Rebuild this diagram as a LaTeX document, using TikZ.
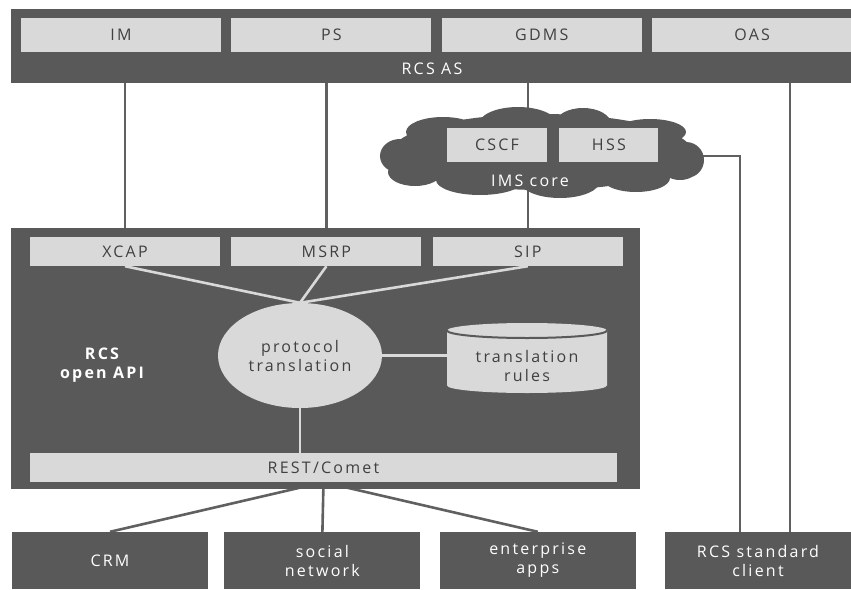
\documentclass[tikz,border=0pt]{standalone}
\usepackage{fontspec}
\setmainfont{Open Sans}[LetterSpace=14]
\usetikzlibrary{positioning,calc,shapes.geometric,backgrounds}
\definecolor{boxdark}{HTML}{595959}
\definecolor{boxlight}{HTML}{D9D9D9}
\definecolor{txtdark}{HTML}{404040}
\definecolor{linedark}{HTML}{606060}

\begin{document}
\begin{tikzpicture}[
  x=1pt, y=-1pt,
  font=\fontsize{16}{19}\selectfont,
  dark/.style={fill=boxdark, text=white, inner sep=0pt, align=center},
  light/.style={fill=boxlight, text=txtdark, inner sep=0pt, align=center},
  tab/.style={light, minimum width=200pt, minimum height=34pt},
  proto/.style={light, minimum width=190pt, minimum height=29pt},
  user/.style={dark, minimum width=196pt, minimum height=57pt},
  wlbl/.style={text=white, inner sep=0pt, align=center},
  dlbl/.style={text=txtdark, inner sep=0pt, align=center},
  link/.style={line width=2.6pt, linedark},
  ilink/.style={line width=2.6pt, boxlight},
]
\useasboundingbox (0,0) rectangle (851,589);

%% ---------- RCS AS (top bar) ----------
\node[dark, minimum width=840pt, minimum height=74pt] (rcsas) at (431,46) {};
\node[tab] (im) at (121,35) {IM};
\node[tab, right=10pt of im]   (ps)   {PS};
\node[tab, right=10pt of ps]   (gdms) {GDMS};
\node[tab, right=10pt of gdms] (oas)  {OAS};
\node[wlbl] (aslbl) at (432,69) {RCS AS};

%% ---------- IMS core (cloud made of puffs) ----------
\fill[boxdark]
  (542,152) ellipse[x radius=150, y radius=38]
  (400,156) ellipse[x radius=20, y radius=17]
  (443,132) ellipse[x radius=37, y radius=15]
  (518,124) ellipse[x radius=39, y radius=17]
  (583,124) ellipse[x radius=28, y radius=16]
  (650,132) ellipse[x radius=36, y radius=13]
  (686,160) ellipse[x radius=18, y radius=18]
  (415,172) ellipse[x radius=27, y radius=14]
  (480,180) ellipse[x radius=44, y radius=15]
  (560,181) ellipse[x radius=40, y radius=17]
  (636,178) ellipse[x radius=34, y radius=14]
  (680,168) ellipse[x radius=18, y radius=12];
\coordinate (ims) at (703,156);
\node[light, minimum width=100pt, minimum height=34pt] (cscf) at (497,145) {CSCF};
\node[light, minimum width=99pt, minimum height=34pt, right=12pt of cscf] (hss) {HSS};
\node[wlbl] (imslbl) at (530,181) {IMS core};

%% ---------- RCS open API ----------
\node[dark, minimum width=629pt, minimum height=261pt] (api) at (325.5,358.5) {};
\node[proto] (xcap) at (125,251.5) {XCAP};
\node[proto, right=11pt of xcap] (msrp) {MSRP};
\node[proto, right=11pt of msrp] (sip)  {SIP};
\node[wlbl, font=\fontsize{16}{19}\selectfont\bfseries] (apilbl) at (102,365) {RCS\\open API};

\node[ellipse, light, minimum width=164pt, minimum height=105pt] (trans) at (300,355.5)
  {protocol\\translation};

%% translation rules: a drum drawn by hand, its text node on top
\coordinate (drum) at (527,358);
\fill[boxlight] ($(drum)+(-80,-27.5)$) -- ($(drum)+(-80,27.5)$)
  arc[start angle=180, end angle=0, x radius=80, y radius=7.5]
  -- ($(drum)+(80,-27.5)$)
  arc[start angle=0, end angle=-180, x radius=80, y radius=7.5] -- cycle;
\draw[boxdark, line width=2pt] ($(drum)+(-80,-27.5)$)
  arc[start angle=180, end angle=0, x radius=80, y radius=7.5];
\node[dlbl, minimum width=160pt, minimum height=55pt] (rules) at (527,365.5) {translation\\rules};

\node[light, minimum width=587pt, minimum height=29pt] (rest) at (323.5,467.5) {REST/Comet};

\draw[ilink] (trans.north) -- (xcap.south);
\draw[ilink] (trans.north) -- (msrp.south);
\draw[ilink] (trans.north) -- (sip.south);
\draw[ilink] (trans.east)  -- (trans.east -| rules.west);
\draw[ilink] (trans.south) -- (trans.south |- rest.north);

%% ---------- users (bottom row) ----------
\node[user] (crm) at (110,560.5) {CRM};
\node[user, right=16pt of crm] (social) {social\\network};
\node[user, right=19pt of social] (apps) {enterprise\\apps};
\node[user, minimum width=186pt] (client) at (758,560.5) {RCS standard\\client};

%% ---------- links outside the boxes ----------
\coordinate (cimsx) at ($(client.north west)+(75,0)$);
\coordinate (casx)  at ($(client.north west)+(125,0)$);
\begin{scope}[on background layer]
  \draw[link] (xcap.north |- rcsas.south) -- (xcap.north);
  \draw[link] (msrp.north |- rcsas.south) -- (msrp.north);
  \draw[link] (sip.north |- rcsas.south)  -- (sip.north);
  \draw[link] (ims) -| (cimsx);
  \draw[link] (casx |- rcsas.south) -- (casx);
  \draw[link] (rest.south) -- (crm.north);
  \draw[link] (rest.south) -- (social.north);
  \draw[link] (rest.south) -- (apps.north);
\end{scope}

\end{tikzpicture}
\end{document}
